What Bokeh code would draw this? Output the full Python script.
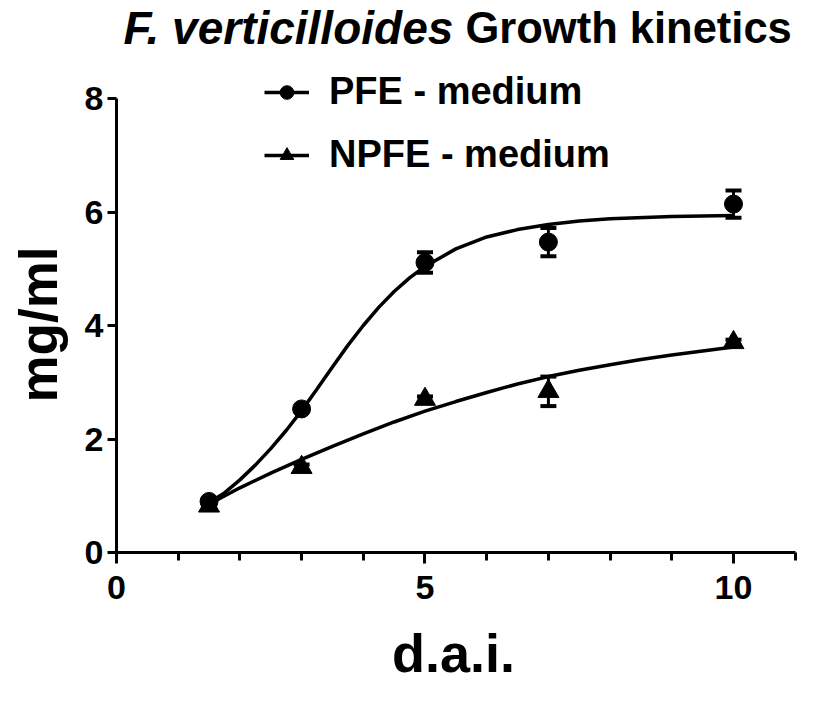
import math
from bokeh.plotting import figure
from bokeh.models import (ColumnDataSource, Range1d, FixedTicker, Whisker, TeeHead,
                          Legend, LegendItem, Label)
from bokeh.embed import file_html
from bokeh.resources import INLINE

# ---- data ----
days = [1.5, 3, 5, 7, 10]
pfe_mean = [0.90, 2.53, 5.11, 5.47, 6.14]
pfe_err = [0.05, 0.05, 0.18, 0.25, 0.24]
npfe_mean = [0.82, 1.50, 2.70, 2.84, 3.70]
npfe_err = [0.03, 0.05, 0.05, 0.26, 0.05]

pfe_fit_x = [1.5, 1.75, 2, 2.25, 2.5, 2.75, 3, 3.25, 3.5, 3.75, 4, 4.25, 4.5, 4.75, 5,
             5.5, 6, 6.5, 7, 7.5, 8, 9, 10]
pfe_fit_y = [0.88, 1.05, 1.28, 1.54, 1.83, 2.15, 2.50, 2.88, 3.27, 3.65, 4.00, 4.32, 4.60,
             4.84, 5.04, 5.35, 5.56, 5.69, 5.78, 5.84, 5.88, 5.92, 5.94]
npfe_fit_x = [1.5, 2, 2.5, 3, 3.5, 4, 4.5, 5, 5.5, 6, 6.5, 7, 7.5, 8, 8.5, 9, 9.5, 10]
npfe_fit_y = [0.85, 1.14, 1.40, 1.64, 1.87, 2.09, 2.30, 2.49, 2.66, 2.82, 2.97, 3.10, 3.21,
              3.31, 3.40, 3.48, 3.55, 3.62]

x_major = [0, 5, 10]
x_minor = [1, 2, 3, 4, 6, 7, 8, 9, 11]
y_major = [0, 2, 4, 6, 8]

FONT = "Liberation Sans"

# The frame covers the whole canvas; both axes sit at fixed locations (x=0 / y=0)
# and their lines are limited with bounds, so every text can live in the frame.
p = figure(width=805, height=689, x_range=Range1d(-1.880, 11.167), y_range=Range1d(-2.414, 9.727),
           output_backend="svg", toolbar_location=None,
           min_border_left=0, min_border_right=0, min_border_top=0, min_border_bottom=0)
p.outline_line_color = None
p.grid.visible = False
p.background_fill_color = "white"
p.border_fill_color = "white"

for ax in (p.xaxis[0], p.yaxis[0]):
    ax.fixed_location = 0
    ax.axis_line_width = 3
    ax.axis_line_color = "black"
    ax.major_tick_line_width = 3
    ax.major_tick_line_color = "black"
    ax.minor_tick_line_width = 3
    ax.minor_tick_line_color = "black"
    ax.major_tick_in = 0
    ax.minor_tick_in = 0
    ax.major_label_text_font = FONT
    ax.major_label_text_font_style = "bold"
    ax.major_label_text_font_size = "34px"
    ax.major_label_text_color = "black"

p.xaxis[0].ticker = FixedTicker(ticks=x_major, minor_ticks=x_minor)
p.xaxis[0].bounds = (0, 11)
p.xaxis[0].major_tick_out = 11
p.xaxis[0].minor_tick_out = 8
p.xaxis[0].major_label_standoff = 12

p.yaxis[0].ticker = FixedTicker(ticks=y_major, minor_ticks=[])
p.yaxis[0].bounds = (0, 8)
p.yaxis[0].major_tick_out = 9
p.yaxis[0].minor_tick_out = 0
p.yaxis[0].major_label_standoff = 4

src_p = ColumnDataSource(dict(x=days, y=pfe_mean,
                              lo=[m - e for m, e in zip(pfe_mean, pfe_err)],
                              hi=[m + e for m, e in zip(pfe_mean, pfe_err)]))
src_n = ColumnDataSource(dict(x=days, y=npfe_mean,
                              lo=[m - e for m, e in zip(npfe_mean, npfe_err)],
                              hi=[m + e for m, e in zip(npfe_mean, npfe_err)]))

lp = p.line(pfe_fit_x, pfe_fit_y, line_color="black", line_width=3.5)
ln = p.line(npfe_fit_x, npfe_fit_y, line_color="black", line_width=3.5)

for src in (src_p, src_n):
    w = Whisker(source=src, base="x", upper="hi", lower="lo", line_color="black", line_width=3,
                upper_head=TeeHead(size=16, line_width=4, line_color="black"),
                lower_head=TeeHead(size=16, line_width=4, line_color="black"))
    p.add_layout(w)

sp = p.scatter("x", "y", source=src_p, marker="circle", size=18, color="black")
sn = p.scatter("x", "y", source=src_n, marker="triangle", size=21, color="black")

legend = Legend(items=[LegendItem(label="PFE - medium", renderers=[lp, sp]),
                       LegendItem(label="NPFE - medium", renderers=[ln, sn])],
                location=(264, 513), orientation="vertical",
                glyph_width=45, glyph_height=34, label_standoff=20, spacing=20,
                padding=0, margin=0, border_line_color=None, background_fill_alpha=0,
                label_text_font=FONT, label_text_font_style="bold",
                label_text_font_size="38px", label_text_color="black",
                label_height=34)
p.add_layout(legend, "center")

t1 = Label(x=123, y=662, x_units="screen", y_units="screen", text="F. verticilloides",
           text_font=FONT, text_font_style="bold italic", text_font_size="46px",
           text_color="black", text_baseline="alphabetic")
t2 = Label(x=465, y=662, x_units="screen", y_units="screen", text="Growth kinetics",
           text_font=FONT, text_font_style="bold", text_font_size="43.5px",
           text_color="black", text_baseline="alphabetic")
ylab = Label(x=38, y=365, x_units="screen", y_units="screen", text="mg/ml", angle=math.pi / 2,
             text_font=FONT, text_font_style="bold", text_font_size="53px",
             text_color="black", text_align="center", text_baseline="middle")
xlab = Label(x=453, y=37, x_units="screen", y_units="screen", text="d.a.i.",
             text_font=FONT, text_font_style="bold", text_font_size="54px",
             text_color="black", text_align="center", text_baseline="alphabetic")
for lab in (t1, t2, ylab, xlab):
    p.add_layout(lab)

open("out.html", "w").write(file_html(p, INLINE))
